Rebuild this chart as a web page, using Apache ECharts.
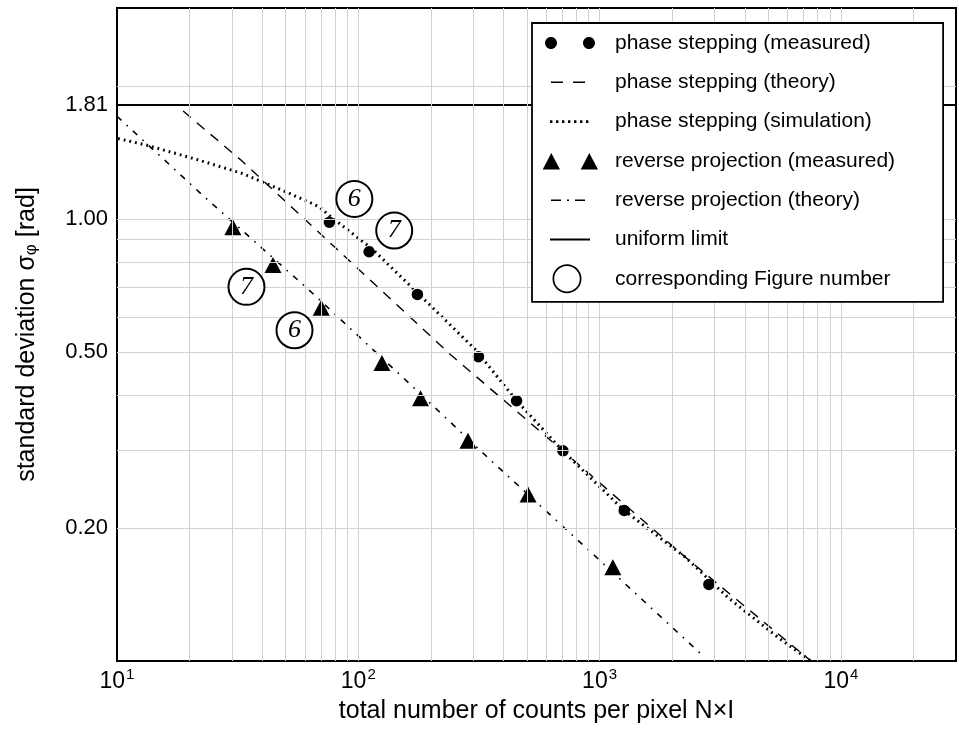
<!DOCTYPE html>
<html><head><meta charset="utf-8">
<script src="https://cdn.jsdelivr.net/npm/echarts@6/dist/echarts.min.js"></script>
<style>html,body{margin:0;padding:0;background:#fff}#c{width:959px;height:732px}</style>
</head><body><div id="c"></div>
<script>
// ---- data ----
const psMeasN = [75.9, 110.9, 175.8, 314.8, 452.9, 704.7, 1265, 2838];
const psMeasSigma = [0.983, 0.843, 0.675, 0.488, 0.388, 0.299, 0.219, 0.149];
const psTheoryN = [18.8, 32.7, 241.5, 703, 2259, 7516];
const psTheorySigma = [1.754, 1.357, 0.493, 0.299, 0.172, 0.1];
const psSimN = [10.1, 13.3, 22.0, 33.2, 48.6, 69.0, 75.9, 114.3, 178.6, 306, 453, 703, 1265, 2259, 3412, 5495, 7516];
const psSimSigma = [1.52, 1.468, 1.357, 1.266, 1.16, 1.065, 1.017, 0.855, 0.675, 0.506, 0.388, 0.299, 0.219, 0.172, 0.139, 0.113, 0.1];
const rpMeasN = [30.2, 44.3, 70.2, 125.3, 181.1, 284.8, 505.4, 1135];
const rpMeasSigma = [0.957, 0.787, 0.630, 0.472, 0.393, 0.315, 0.238, 0.163];
const rpTheoryN = [10, 23.1, 60.8, 167.7, 347.7, 873, 2690];
const rpTheorySigma = [1.707, 1.12, 0.70, 0.418, 0.287, 0.181, 0.1026];
const uniformN = [10, 30000];
const uniformSigma = [1.81, 1.81];
const figN = [96.3, 140.9, 34.4, 54.4];
const figSigma = [1.11, 0.941, 0.702, 0.56];
const figLabels = ['6', '7', '7', '6'];
const xTickLabels = [10, 100, 1000, 10000];
const yTickLabels = [0.2, 0.5, 1.0, 1.81];
const xGridValues = [20,30,40,50,60,70,80,90,100,200,300,400,500,600,700,800,900,1000,2000,3000,4000,5000,6000,7000,8000,9000,10000,20000];
const yGridValues = [0.2,0.3,0.4,0.5,0.6,0.7,0.8,0.9,1.0,2.0];
const legendNames = ['phase stepping (measured)','phase stepping (theory)','phase stepping (simulation)','reverse projection (measured)','reverse projection (theory)','uniform limit','corresponding Figure number'];

const zip = (a, b) => a.map((v, i) => [v, b[i]]);
const FONT = 'Liberation Sans, Arial, sans-serif';
const A = 'M0 0M68 30';
function circ(cx, cy, r, rev) {
  const k = 0.5523 * r;
  if (!rev) {
    return 'M' + (cx - r) + ' ' + cy +
      'C' + (cx - r) + ' ' + (cy - k) + ' ' + (cx - k) + ' ' + (cy - r) + ' ' + cx + ' ' + (cy - r) +
      'C' + (cx + k) + ' ' + (cy - r) + ' ' + (cx + r) + ' ' + (cy - k) + ' ' + (cx + r) + ' ' + cy +
      'C' + (cx + r) + ' ' + (cy + k) + ' ' + (cx + k) + ' ' + (cy + r) + ' ' + cx + ' ' + (cy + r) +
      'C' + (cx - k) + ' ' + (cy + r) + ' ' + (cx - r) + ' ' + (cy + k) + ' ' + (cx - r) + ' ' + cy + 'Z';
  }
  return 'M' + (cx - r) + ' ' + cy +
    'C' + (cx - r) + ' ' + (cy + k) + ' ' + (cx - k) + ' ' + (cy + r) + ' ' + cx + ' ' + (cy + r) +
    'C' + (cx + k) + ' ' + (cy + r) + ' ' + (cx + r) + ' ' + (cy + k) + ' ' + (cx + r) + ' ' + cy +
    'C' + (cx + r) + ' ' + (cy - k) + ' ' + (cx + k) + ' ' + (cy - r) + ' ' + cx + ' ' + (cy - r) +
    'C' + (cx - k) + ' ' + (cy - r) + ' ' + (cx - r) + ' ' + (cy - k) + ' ' + (cx - r) + ' ' + cy + 'Z';
}
let dots = '';
[8,14,20,26,32,38,44].forEach(x => { dots += 'M' + x + ' 13.7h2.4v2.6h-2.4z'; });
const icons = [
  A + circ(9, 15, 6) + circ(47, 15, 6),
  A + 'M9 14.25H21V15.75H9ZM31 14.25H43V15.75H31Z',
  A + dots,
  A + 'M0.7 23.5L9.3 7L18 23.5ZM38.7 23.5L47.3 7L56 23.5Z',
  A + 'M9 14.25H19V15.75H9ZM25 14.25H27V15.75H25ZM33 14.25H43V15.75H33Z',
  A + 'M8 14.1H48V15.9H8Z',
  A + circ(25, 15, 14.5) + circ(25, 15, 12.8, true)
];

const chart = echarts.init(document.getElementById('c'), null, {renderer: 'canvas'});
chart.setOption({
  animation: false,
  backgroundColor: '#fff',
  grid: {left: 117, right: 0, top: 8, bottom: 71, show: true, borderColor: '#000', borderWidth: 2, backgroundColor: 'transparent'},
  xAxis: {
    type: 'log', logBase: 10, min: 10, max: 30000,
    axisLine: {show: true, lineStyle: {color: '#000', width: 2}},
    axisTick: {show: false}, splitLine: {show: false},
    axisLabel: {
      margin: 6, color: '#000',
      formatter: function (v) {
        for (const t of xTickLabels) {
          if (Math.abs(v - t) < 1e-6 * t) return '{b|10}{s|' + Math.round(Math.log10(t)) + '}';
        }
        return '';
      },
      rich: {
        b: {fontSize: 23, fontFamily: FONT, color: '#000', lineHeight: 30},
        s: {fontSize: 15, fontFamily: FONT, color: '#000', verticalAlign: 'top', lineHeight: 7, padding: [0, 0, 0, 1]}
      }
    },
    name: 'total number of counts per pixel N×I', nameLocation: 'middle', nameGap: 38,
    nameTextStyle: {fontSize: 25, color: '#000', fontFamily: FONT}
  },
  yAxis: {
    type: 'log', logBase: 10, min: 0.1, max: 3,
    axisLine: {show: true, lineStyle: {color: '#000', width: 2}},
    axisTick: {show: false}, splitLine: {show: false}, axisLabel: {show: false},
    name: 'standard deviation σ{sub|φ} [rad]', nameLocation: 'middle', nameGap: 77,
    nameTextStyle: {fontSize: 25, color: '#000', fontFamily: FONT,
      rich: {sub: {fontSize: 17, fontFamily: FONT, color: '#000', verticalAlign: 'bottom', padding: [8, 0, 0, 0]}}}
  },
  legend: {
    show: true, orient: 'vertical', left: 532, top: 23, z: 50, zlevel: 1,
    padding: [5, 48, 8, 10], itemWidth: 68, itemHeight: 30, itemGap: 9.3,
    backgroundColor: '#fff', borderColor: '#000', borderWidth: 1.8,
    selectedMode: false,
    textStyle: {fontSize: 21, color: '#000', fontFamily: FONT},
    data: legendNames.map((n, i) => ({name: n, icon: 'path://' + icons[i], itemStyle: {color: '#000', borderWidth: 0, borderColor: 'transparent', opacity: 1}}))
  },
  series: [
    {
      type: 'line', name: 'gridlines', data: [], silent: true, z: 1,
      markLine: {
        silent: true, symbol: ['none', 'none'], animation: false,
        label: {show: false},
        lineStyle: {color: '#d2d2d2', width: 1, type: 'solid'},
        emphasis: {disabled: true},
        data: xGridValues.map(v => ({xAxis: v})).concat(yGridValues.map(v => ({yAxis: v})))
      }
    },
    {
      type: 'line', name: 'ylabels', data: [], silent: true, z: 1,
      markLine: {
        silent: true, symbol: ['none', 'none'], animation: false,
        lineStyle: {color: 'rgba(0,0,0,0)', width: 0},
        label: {show: true, position: 'start', distance: 9, color: '#000', fontSize: 22, fontFamily: FONT, formatter: p => Number(p.value).toFixed(2)},
        emphasis: {disabled: true},
        data: yTickLabels.map(v => ({yAxis: v}))
      }
    },
    {name: legendNames[5], type: 'line', data: zip(uniformN, uniformSigma), symbol: 'none', z: 3,
      itemStyle: {color: '#000'}, lineStyle: {color: '#000', width: 1.8, type: 'solid'}},
    {name: legendNames[1], type: 'line', data: zip(psTheoryN, psTheorySigma), symbol: 'none', z: 3,
      itemStyle: {color: '#000'}, lineStyle: {color: '#000', width: 1.4, type: [10, 8]}},
    {name: legendNames[2], type: 'line', data: zip(psSimN, psSimSigma), symbol: 'none', z: 3,
      itemStyle: {color: '#000'}, lineStyle: {color: '#000', width: 3, type: [1.8, 4]}},
    {name: legendNames[4], type: 'line', data: zip(rpTheoryN, rpTheorySigma), symbol: 'none', z: 3,
      itemStyle: {color: '#000'}, lineStyle: {color: '#000', width: 1.6, type: [6, 7, 1.6, 7]}},
    {name: legendNames[0], type: 'scatter', data: zip(psMeasN, psMeasSigma), symbol: 'circle', symbolSize: 11.5, z: 4,
      itemStyle: {color: '#000', opacity: 1}},
    {name: legendNames[3], type: 'scatter', data: zip(rpMeasN, rpMeasSigma), symbol: 'triangle', symbolSize: [17, 16], z: 4,
      itemStyle: {color: '#000', opacity: 1}},
    {name: legendNames[6], type: 'scatter', z: 5,
      data: figN.map((n, i) => ({value: [n, figSigma[i]], label: {formatter: figLabels[i]}})),
      symbol: 'circle', symbolSize: 36,
      itemStyle: {color: '#fff', borderColor: '#000', borderWidth: 2, opacity: 1},
      label: {show: true, position: 'inside', color: '#000', fontSize: 26, fontStyle: 'italic', fontFamily: 'Liberation Serif, Times New Roman, serif'}}
  ]
});
</script></body></html>
